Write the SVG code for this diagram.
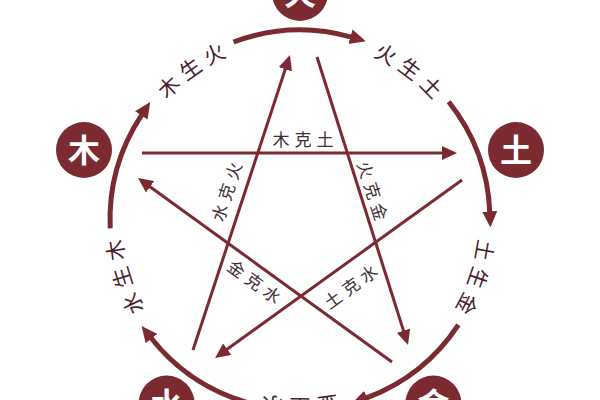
<svg xmlns="http://www.w3.org/2000/svg" width="600" height="400" viewBox="0 0 600 400">
  <style>
    .node circle { fill: #7a2a30; }
    .node text { fill: #ffffff; font-family: "Noto Sans CJK SC", "Noto Sans", sans-serif; font-size: 32px; font-weight: bold; text-anchor: middle; }
    .cycle { fill: none; stroke: #7a2a30; stroke-width: 5; marker-end: url(#bigArrow); }
    .ctrl { fill: none; stroke: #7a2a30; stroke-width: 3; marker-end: url(#smallArrow); }
    .glabel { fill: #4a2030; font-family: "Noto Sans CJK SC", "Noto Sans", sans-serif; font-size: 21px; letter-spacing: 6px; text-anchor: middle; }
    .klabel { fill: #3f2e34; font-family: "Noto Sans CJK SC", "Noto Sans", sans-serif; font-size: 17px; letter-spacing: 5px; text-anchor: middle; }
  </style>
  <defs>
    <marker id="bigArrow" markerUnits="userSpaceOnUse" viewBox="0 0 16 16" markerWidth="16" markerHeight="16" refX="1" refY="8" orient="auto">
      <path d="M0,0.5 L16,8 L0,15.5 z" fill="#7a2a30"/>
    </marker>
    <marker id="smallArrow" markerUnits="userSpaceOnUse" viewBox="0 0 15 14" markerWidth="15" markerHeight="14" refX="1" refY="7" orient="auto">
      <path d="M0,0 L15,7 L0,14 z" fill="#7a2a30"/>
    </marker>
    <path id="lp1" d="M126.3,176.7 A179,179 0 0 1 312.5,41.4"/>
    <path id="lp2" d="M287.5,41.4 A179,179 0 0 1 473.7,176.7"/>
    <path id="lp3" d="M466.0,152.9 A179,179 0 0 1 394.9,371.8"/>
    <path id="lp4" d="M415.1,357.1 A179,179 0 0 1 184.9,357.1"/>
    <path id="lp5" d="M205.1,371.8 A179,179 0 0 1 134.0,152.9"/>
  </defs>
  <rect width="600" height="400" fill="#ffffff"/>

  <g id="connectors">
    <!-- generating cycle -->
    <path class="cycle" d="M110.2,228.3 A190,190 0 0 1 141.9,114.6"/>
    <path class="cycle" d="M233.5,42.0 A190,190 0 0 1 351.4,37.1"/>
    <path class="cycle" d="M448.7,101.7 A190,190 0 0 1 489.8,212.4"/>
    <path class="cycle" d="M458.4,324.9 A190,190 0 0 1 365.9,398.2"/>
    <path class="cycle" d="M249.2,403.1 A190,190 0 0 1 150.9,337.8"/>
    <text class="glabel" dx="3"><textPath href="#lp1" startOffset="50%">木生火</textPath></text>
    <text class="glabel" dx="3"><textPath href="#lp2" startOffset="50%">火生土</textPath></text>
    <text class="glabel" dx="3"><textPath href="#lp3" startOffset="50%">土生金</textPath></text>
    <text class="glabel" dx="3"><textPath href="#lp4" startOffset="50%">金生水</textPath></text>
    <text class="glabel" dx="3"><textPath href="#lp5" startOffset="50%">水生木</textPath></text>

    <!-- controlling star -->
    <line class="ctrl" x1="142" y1="153" x2="443" y2="153"/>
    <line class="ctrl" x1="462" y1="180" x2="226.4" y2="349.8"/>
    <line class="ctrl" x1="193" y1="350" x2="285.6" y2="68.3"/>
    <line class="ctrl" x1="317" y1="57" x2="403.8" y2="331.6"/>
    <line class="ctrl" x1="392" y1="362" x2="149.3" y2="186.2"/>
    <text class="klabel" x="305.5" y="146">木克土</text>
    <text class="klabel" transform="translate(227,192) rotate(-72)" x="2.5" y="6">水克火</text>
    <text class="klabel" transform="translate(372,191) rotate(72)" x="2.5" y="6">火克金</text>
    <text class="klabel" transform="translate(254,282) rotate(36)" x="2.5" y="6">金克水</text>
    <text class="klabel" transform="translate(351,287) rotate(-36)" x="2.5" y="6">土克水</text>
  </g>

  <g id="node-fire" class="node">
    <circle cx="300" cy="-7" r="28"/>
    <text x="300" y="5">火</text>
  </g>
  <g id="node-wood" class="node">
    <circle cx="84" cy="150" r="28"/>
    <text x="84" y="162">木</text>
  </g>
  <g id="node-earth" class="node">
    <circle cx="516" cy="150" r="28"/>
    <text x="516" y="162">土</text>
  </g>
  <g id="node-water" class="node">
    <circle cx="166.6" cy="403.6" r="28"/>
    <text x="166.6" y="415.6">水</text>
  </g>
  <g id="node-metal" class="node">
    <circle cx="433.4" cy="403.6" r="28"/>
    <text x="433.4" y="415.6">金</text>
  </g>
</svg>
